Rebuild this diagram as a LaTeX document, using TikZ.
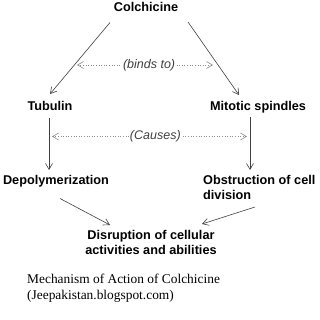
\documentclass[tikz,border=0pt]{standalone}
\usepackage{fontspec}
\setmainfont{Liberation Serif}
\setsansfont{Liberation Sans}
\usepackage{tikz}
\usetikzlibrary{arrows.meta,calc}

\tikzset{
    step box/.style={inner sep=0pt, anchor=base, font=\fontsize{12.7}{14.3}\selectfont\sffamily\bfseries},
    link/.style={draw=black!75, line width=0.6pt, -{Straight Barb[length=6pt,width=7pt]}},
    relation/.style={draw=black!45, line width=0.6pt, dotted, {Straight Barb[length=6pt,width=7pt]}-{Straight Barb[length=6pt,width=7pt]}},
    rel label/.style={fill=white, inner sep=1pt, text=black!75, font=\fontsize{12.5}{14}\selectfont\sffamily\itshape}
}

\begin{document}
\begin{tikzpicture}[x=1pt,y=-1pt]
    \useasboundingbox (0,0) rectangle (319,320);

    % steps (base = baseline of the last line)
    \node[step box] (colch) at (146,11.5) {Colchicine};
    \node[step box] (tub) at (50,111) {Tubulin};
    \node[step box] (mit) at (258,111) {Mitotic spindles};
    \node[step box] (depol) at (56,184.5) {Depolymerization};
    \node[step box, anchor=base west, align=left] (obst) at (203,199) {Obstruction of cell\\division};
    \node[step box, align=center] (disr) at (151,254) {Disruption of cellular\\activities and abilities};

    % caption
    \node[anchor=base west, align=left, inner sep=0pt,
          font=\fontsize{13.4}{16}\selectfont\rmfamily] (cap) at (27,299)
        {Mechanism of Action of Colchicine\\(Jeepakistan.blogspot.com)};

    % arrows
    \draw[link] ([xshift=-36pt,yshift=-11pt]colch.base) -- ([xshift=0pt,yshift=17pt]tub.base);
    \draw[link] ([xshift=42pt,yshift=-10.5pt]colch.base) -- ([xshift=-19pt,yshift=16pt]mit.base);
    \draw[link] ([xshift=-1pt,yshift=-7pt]tub.base) -- ([xshift=-7pt,yshift=14.5pt]depol.base);
    \draw[link] ([xshift=-8pt,yshift=-6.3pt]mit.base) -- ([xshift=47pt,yshift=29pt]obst.base west);
    \draw[link] ([xshift=4pt,yshift=-14pt]depol.base) -- ([xshift=-41pt,yshift=29pt]disr.base);
    \draw[link] ([xshift=52pt,yshift=-8pt]obst.base west) -- ([xshift=51pt,yshift=30pt]disr.base);

    % relations
    \coordinate (bindsL) at (77,65);
    \coordinate (bindsR) at (213,65);
    \coordinate (causesL) at (52,136.5);
    \coordinate (causesR) at (247,136.5);
    \draw[relation] (bindsL) -- node[rel label, pos=0.53] (binds) {(binds to)} (bindsR);
    \draw[relation] (causesL) -- node[rel label, pos=0.53] (causes) {(Causes)} (causesR);
\end{tikzpicture}
\end{document}
